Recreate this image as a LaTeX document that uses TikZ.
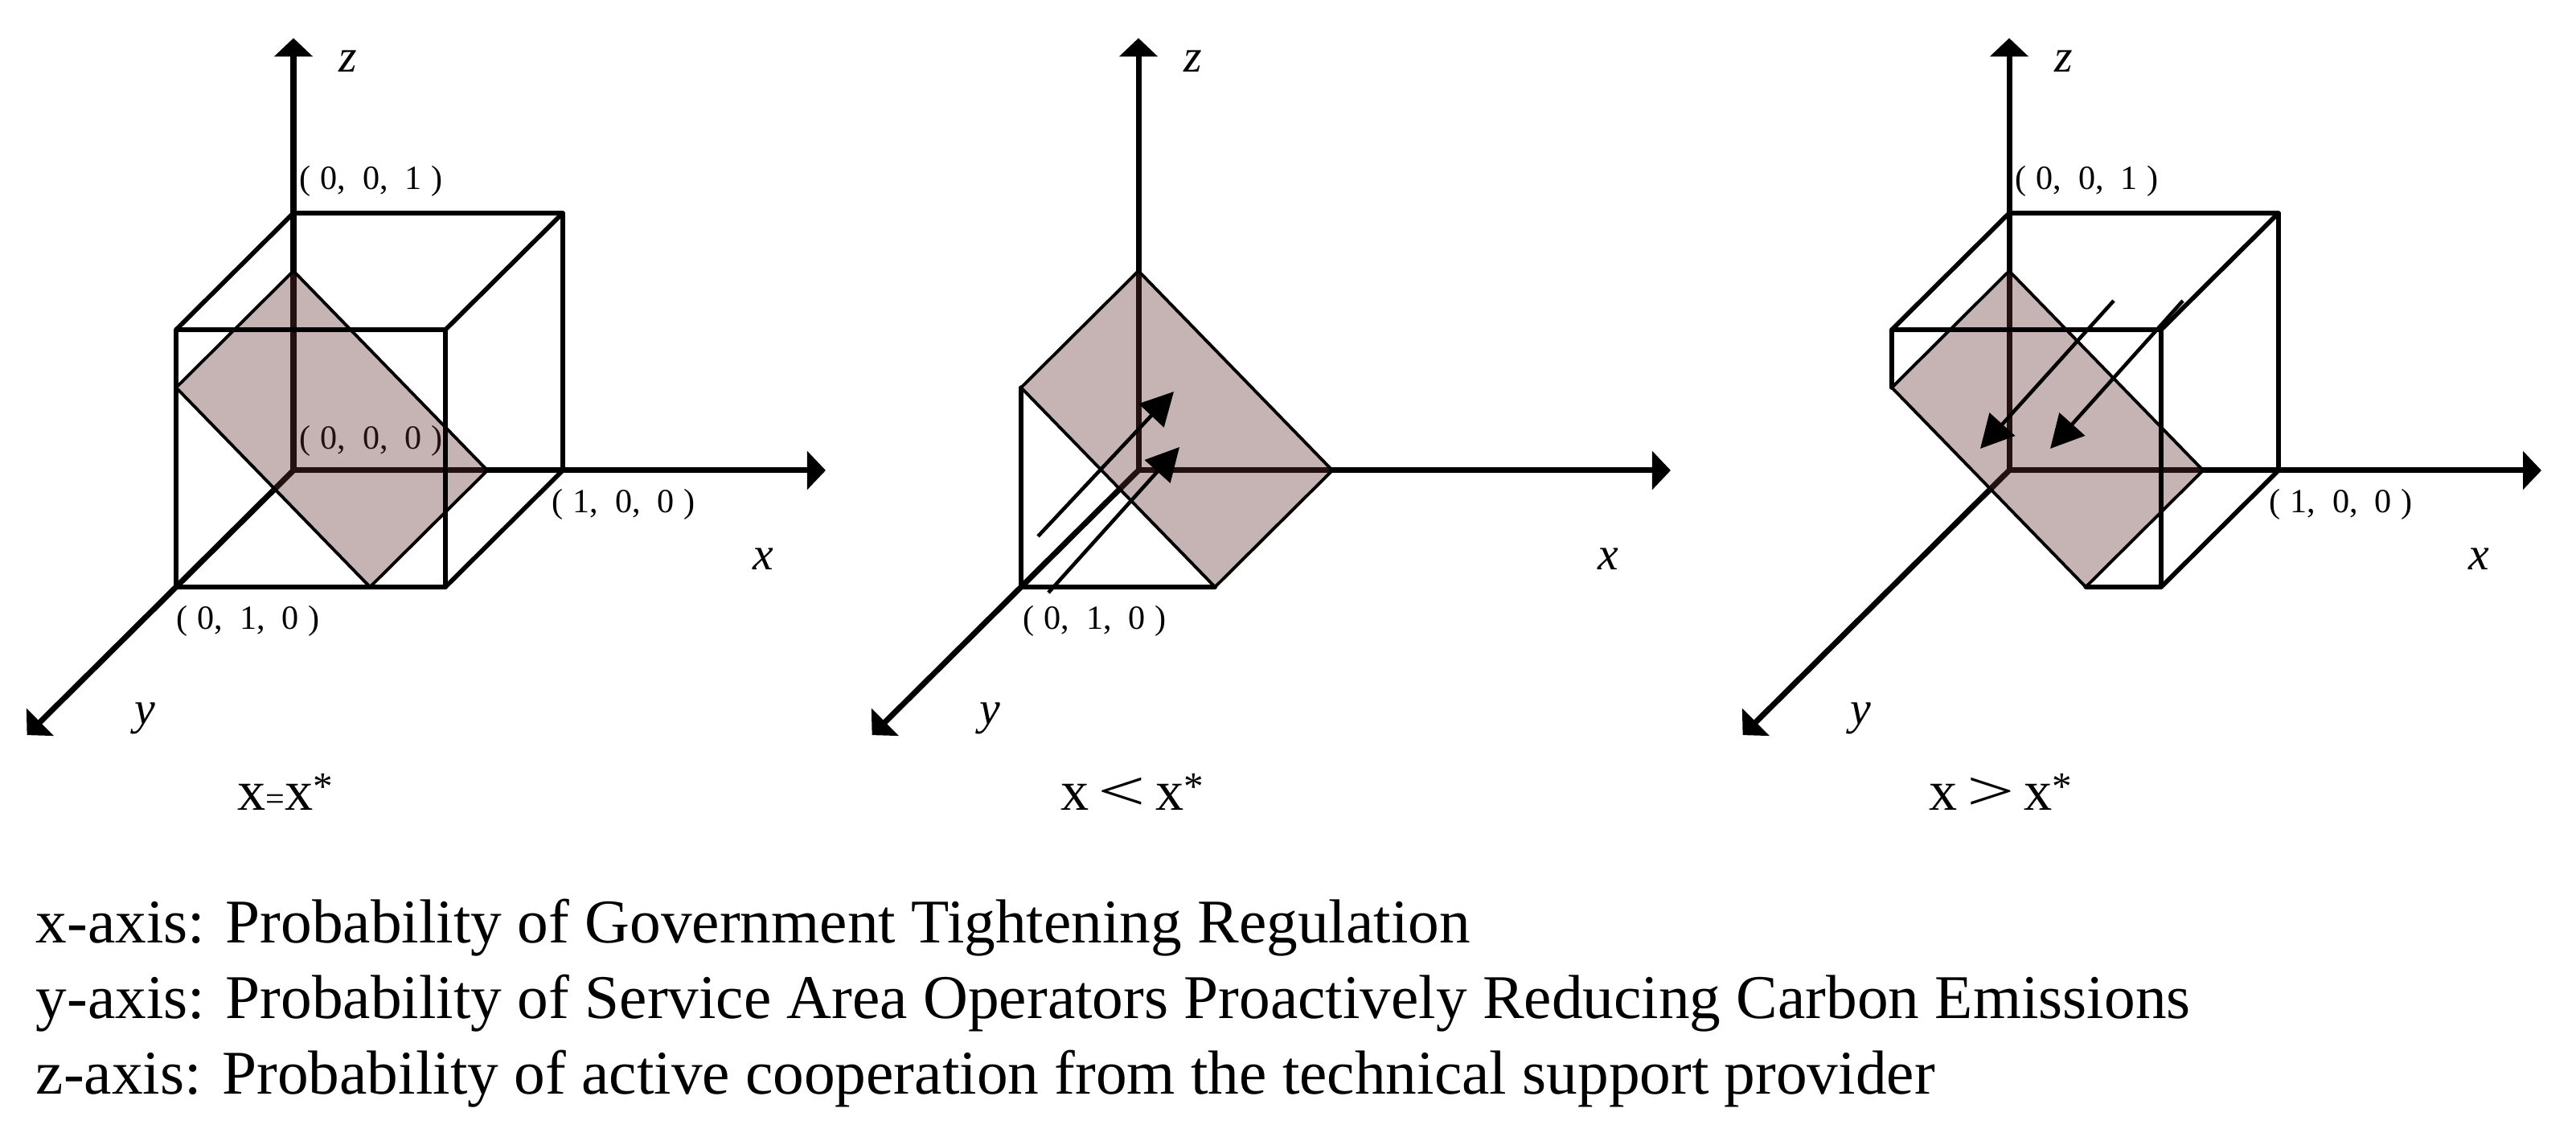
\documentclass[tikz,border=0pt]{standalone}
\usepackage{fontspec}
\usepackage{graphicx}
\setmainfont{Liberation Serif}
\usetikzlibrary{arrows.meta}
\definecolor{planefill}{RGB}{98,48,48}
\newcommand{\triple}[3]{(\;#1,\enspace#2,\enspace#3\;)}
\newcommand{\starmark}{\raisebox{3.5pt}{\fontsize{14}{14}\selectfont *}}
\begin{document}
\begin{tikzpicture}[x=1cm,y=1cm]
  \tikzset{
    axis/.style={line width=2pt,-{Triangle[length=0.23cm,width=0.47cm]}},
    edge/.style={line width=1.6pt,line cap=round,line join=round},
    rim/.style={line width=1.1pt,line join=round},
    plane/.style={fill=planefill,fill opacity=0.36},
    flow/.style={line width=1.3pt,-{Triangle[length=0.41cm,width=0.42cm]}},
    coord/.style={font=\fontsize{12}{13}\selectfont,inner sep=0pt,anchor=west},
    axlabel/.style={font=\fontsize{16.5}{18}\selectfont\itshape,inner sep=0pt},
    case/.style={font=\fontsize{20}{22}\selectfont,inner sep=0pt},
    legend/.style={font=\fontsize{22}{26}\selectfont,inner sep=0pt,anchor=base west}
  }
  \useasboundingbox (0,0) rectangle (32.04,14.04);
  % axes and corners of the unit cube, one scope per panel
  \foreach \p/\ox in {a/3.65,b/14.16,c/24.99} {
    \begin{scope}[shift={(\ox,8.19)},x={(3.35cm,0cm)},y={(-1.46cm,-1.45cm)},z={(0cm,3.2cm)}]
      \foreach \i/\j/\k in {0/0/0,1/0/0,0/1/0,0/0/1,1/1/0,1/0/1,0/1/1,1/1/1}
        \coordinate (\p\i\j\k) at (\i,\j,\k);
      \coordinate (\p Px) at (0.72,0,0);
      \coordinate (\p Pz) at (0,0,0.775);
      \coordinate (\p Qz) at (0,1,0.775);
      \coordinate (\p Qx) at (0.72,1,0);
      \coordinate (\p X) at (1.976,0,0);
      \coordinate (\p Y) at (0,2.27,0);
      \coordinate (\p Z) at (0,0,1.68);
      \draw[axis] (\p000) -- (\p X);
      \draw[axis] (\p000) -- (\p Y);
      \draw[axis] (\p000) -- (\p Z);
      \node[axlabel] (\p xl) at (5.84cm,-1.10cm) {x};
      \node[axlabel] (\p yl) at (-1.85cm,-3.08cm) {y};
      \node[axlabel] (\p zl) at (0.68cm,5.09cm) {z};
    \end{scope}
  }
  % corner labels
  \node[coord] (a001l) at ([shift={(0.07,0.40)}]a001) {\triple001};
  \node[coord] (a000l) at ([shift={(0.07,0.37)}]a000) {\triple000};
  \node[coord] (a100l) at ([shift={(-0.14,-0.42)}]a100) {\triple100};
  \node[coord] (a010l) at ([shift={(0,-0.42)}]a010) {\triple010};
  \node[coord] (b010l) at ([shift={(0.02,-0.42)}]b010) {\triple010};
  \node[coord] (c001l) at ([shift={(0.07,0.40)}]c001) {\triple001};
  \node[coord] (c100l) at ([shift={(-0.12,-0.42)}]c100) {\triple100};
  % the plane x + z = c
  \foreach \p in {a,b,c} {
    \fill[plane] (\p Px) -- (\p Pz) -- (\p Qz) -- (\p Qx) -- cycle;
    \draw[rim] (\p Px) -- (\p Pz) -- (\p Qz) -- (\p Qx) -- cycle;
  }
  % panel 1: whole cube
  \draw[edge] (a001) -- (a101) -- (a111) -- (a011) -- cycle;
  \draw[edge] (a101) -- (a100) -- (a110) -- (a010) -- (a011);
  \draw[edge] (a111) -- (a110);
  % panel 2: prism under the plane
  \draw[edge] (bQz) -- (b010) -- (bQx);
  % panel 3: part of the cube above the plane
  \draw[edge] (c001) -- (c101) -- (c111) -- (c011) -- cycle;
  \draw[edge] (c011) -- (cQz);
  \draw[edge] (cQx) -- (c110) -- (c100) -- (c101);
  \draw[edge] (c110) -- (c111);
  % flow directions
  \coordinate (bu0) at ([shift={(-1.25,-0.82)}]b000);
  \coordinate (bu1) at ([shift={(0.44,0.98)}]b000);
  \coordinate (bv0) at ([shift={(-1.12,-1.52)}]b000);
  \coordinate (bv1) at ([shift={(0.51,0.29)}]b000);
  \coordinate (cu0) at ([shift={(1.30,2.11)}]c000);
  \coordinate (cu1) at ([shift={(-0.36,0.27)}]c000);
  \coordinate (cv0) at ([shift={(2.16,2.11)}]c000);
  \coordinate (cv1) at ([shift={(0.51,0.27)}]c000);
  \draw[flow] (bu0) -- (bu1);
  \draw[flow] (bv0) -- (bv1);
  \draw[flow] (cu0) -- (cu1);
  \draw[flow] (cv0) -- (cv1);
  % cases
  \node[case] (acase) at ([shift={(-0.10,-4.00)}]a000) {x{\fontsize{12}{12}\selectfont =}x\starmark};
  \node[case] (bcase) at ([shift={(-0.08,-4.00)}]b000) {x\,\scalebox{1.5}[1]{<}\,x\starmark};
  \node[case] (ccase) at ([shift={(-0.11,-4.00)}]c000) {x\,\scalebox{1.5}[1]{>}\,x\starmark};
  % meaning of the axes
  \node[legend] (xleg) at (0.44,2.31) {x-axis: Probability of Government Tightening Regulation};
  \node[legend] (yleg) at (0.44,1.37) {y-axis: Probability of Service Area Operators Proactively Reducing Carbon Emissions};
  \node[legend] (zleg) at (0.44,0.43) {z-axis: Probability of active cooperation from the technical support provider};
\end{tikzpicture}
\end{document}
